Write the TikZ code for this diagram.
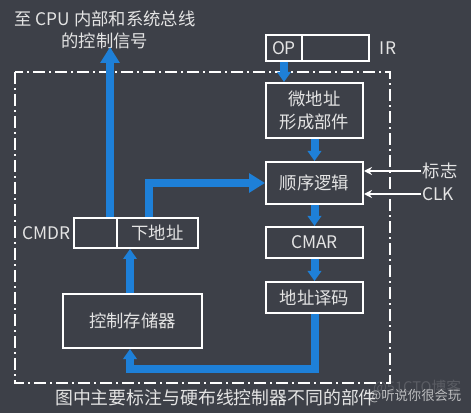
\documentclass[tikz,border=0pt]{standalone}
\usepackage{fontspec}
\setmainfont{Noto Sans CJK SC}
\usetikzlibrary{arrows.meta}
\definecolor{bgc}{RGB}{61,64,72}
\definecolor{bl}{RGB}{30,128,216}
\definecolor{tx}{RGB}{228,228,228}
\begin{document}
\begin{tikzpicture}[x=0.75pt,y=-0.75pt,
  box/.style={draw=white, line width=1.5pt, inner sep=0pt, text=tx, font=\fontsize{13}{17}\selectfont, align=center},
  lbl/.style={text=tx, font=\fontsize{13}{17}\selectfont, inner sep=1pt},
  barrow/.style={draw=bl, line width=6pt, -{Triangle[width=10pt,length=7.5pt]}},
  bigarrow/.style={draw=bl, line width=6pt, -{Triangle[width=14pt,length=12pt]}},
  warrow/.style={draw=white, line width=1pt, -{Stealth[width=6pt,length=6pt]}},
  frame/.style={draw=white, line width=1.1pt, dash pattern=on 9pt off 3pt on 1.5pt off 3pt}]
\fill[bgc] (0,0) rectangle (471,413);
\useasboundingbox (0,0) rectangle (471,413);
% dash-dot frame
\draw[frame] (15,72) rectangle (390,383);
% title
\node[lbl, align=center] (title) at (105,30) {至 CPU 内部和系统总线\\的控制信号};
% left column
\node[box, minimum width=32.25pt, minimum height=22.5pt] (cmdrL) at (95.5,233) {};
\node[box, minimum width=60.75pt, minimum height=22.5pt] (cmdrR) at (157.5,233) {下地址};
\node[lbl, anchor=east] (cmdrlbl) at (72,233) {CMDR};
\node[box, minimum width=104.25pt, minimum height=40.5pt] (cs) at (132.5,321) {控制存储器};
% right column
\node[box, minimum width=27pt, minimum height=19.5pt] (op) at (284,48) {OP};
\node[box, minimum width=50.25pt, minimum height=19.5pt] (irR) at (335.5,48) {};
\node[lbl] (irlbl) at (388,48) {IR};
\node[box, minimum width=72.75pt, minimum height=41.25pt] (wdz) at (314.5,110.5) {微地址\\形成部件};
\node[box, minimum width=72.75pt, minimum height=31.5pt] (sx) at (314.5,183) {顺序逻辑};
\node[box, minimum width=72.75pt, minimum height=23.25pt] (cmar) at (314.5,242.5) {CMAR};
\node[box, minimum width=72.75pt, minimum height=23.25pt] (dzym) at (314.5,297.5) {地址译码};
\node[lbl] (flag) at (440,171) {标志};
\node[lbl] (clk) at (438,194) {CLK};
% bottom caption and watermark
\node[lbl, font=\fontsize{13.4}{17}\selectfont] (cap) at (216,398) {图中主要标注与硬布线控制器不同的部件};
\node[text=white, opacity=0.15, font=\fontsize{11}{13}\selectfont, inner sep=0pt] (wm1) at (417,388) {@51CTO博客};
\node[text=tx, opacity=0.75, font=\fontsize{10}{12}\selectfont, inner sep=0pt] (wm2) at (415,396) {@听说你很会玩};
% blue connectors
\coordinate (up) at (110,47);
\draw[bigarrow] (up |- cmdrL.north) -- (up);
\coordinate (k1) at (149,183);
\draw[bigarrow] (k1 |- cmdrR.north) -- (k1) -- (k1 -| sx.west);
\coordinate (ax) at (130,369);
\draw[barrow] (ax |- cs.north) -- (ax |- cmdrR.south);
\draw[barrow] (dzym.south) -- (dzym.south |- ax) -- (ax) -- (ax |- cs.south);
\draw[barrow] (op.south) -- (op.south |- wdz.north);
\draw[barrow] (wdz.south) -- (sx.north);
\draw[barrow] (sx.south) -- (cmar.north);
\draw[barrow] (cmar.south) -- (dzym.north);
% white inputs
\draw[warrow] (flag.west) -- (flag.west -| sx.east);
\draw[warrow] (clk.west) -- (clk.west -| sx.east);
\end{tikzpicture}
\end{document}
